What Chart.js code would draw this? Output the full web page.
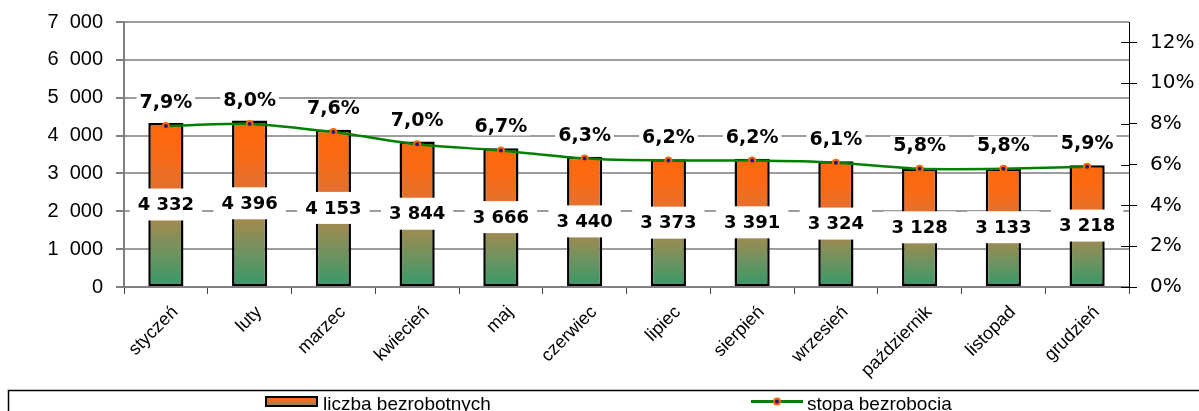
<!DOCTYPE html>
<html>
<head>
<meta charset="utf-8">
<script src="https://cdn.jsdelivr.net/npm/chart.js@4"></script>
<style>
html, body { margin: 0; padding: 0; background: #fff; overflow: hidden; }
#wrap { width: 1199px; height: 411px; overflow: hidden; position: relative; }
canvas { display: block; }
</style>
</head>
<body>
<div id="wrap"><canvas id="chart" width="1199" height="440"></canvas></div>
<script>
const months = ['styczeń', 'luty', 'marzec', 'kwiecień', 'maj', 'czerwiec', 'lipiec', 'sierpień', 'wrzesień', 'październik', 'listopad', 'grudzień'];
const unemployed = [4332, 4396, 4153, 3844, 3666, 3440, 3373, 3391, 3324, 3128, 3133, 3218];
const rate = [7.9, 8.0, 7.6, 7.0, 6.7, 6.3, 6.2, 6.2, 6.1, 5.8, 5.8, 5.9];
const countTicks = [0, 1000, 2000, 3000, 4000, 5000, 6000, 7000];
const rateTicks = [0, 2, 4, 6, 8, 10, 12];

const seriesNames = ['liczba bezrobotnych', 'stopa bezrobocia'];

function fmtThousands(n, sep) {
    const s = String(n);
    if (s.length <= 3) return s;
    return s.slice(0, s.length - 3) + sep + s.slice(-3);
}

function fmtRate(v) {
    return v.toFixed(1).replace('.', ',') + '%';
}

function barGradient(ctx, top, bottom) {
    const g = ctx.createLinearGradient(0, top, 0, bottom);
    g.addColorStop(0, '#FF680A');
    g.addColorStop(0.18, '#F96A14');
    g.addColorStop(0.4, '#E2712F');
    g.addColorStop(0.6, '#A08A50');
    g.addColorStop(0.8, '#6C9360');
    g.addColorStop(1, '#349A68');
    return g;
}

// bar value labels (centre, white box) and rate labels above the points
const valueLabels = {
    id: 'valueLabels',
    afterDatasetsDraw(chart) {
        const ctx = chart.ctx;
        const bars = chart.getDatasetMeta(0).data;
        const pts = chart.getDatasetMeta(1).data;
        ctx.save();
        ctx.textAlign = 'center';
        ctx.textBaseline = 'middle';

        ctx.font = 'bold 18px "DejaVu Sans"';
        bars.forEach((bar, i) => {
            const txt = fmtThousands(unemployed[i], ' ');
            const w = ctx.measureText(txt).width + 16;
            const cy = (bar.y + bar.base) / 2;
            ctx.fillStyle = '#fff';
            ctx.fillRect(bar.x - w / 2, cy - 16, w, 32);
            ctx.fillStyle = '#000';
            ctx.fillText(txt, bar.x, cy + 1);
        });

        ctx.font = 'bold 19px "DejaVu Sans"';
        pts.forEach((pt, i) => {
            const txt = fmtRate(rate[i]);
            const w = ctx.measureText(txt).width + 6;
            const cy = pt.y - 24;
            ctx.fillStyle = '#fff';
            ctx.fillRect(pt.x - w / 2, cy - 9, w, 18);
            ctx.fillStyle = '#000';
            ctx.fillText(txt, pt.x, cy + 1);
        });
        ctx.restore();
    }
};

// rotated month names and the inner half of the right axis ticks
const axisExtras = {
    id: 'axisExtras',
    afterDraw(chart) {
        const ctx = chart.ctx;
        const xs = chart.scales.x;
        const y1 = chart.scales.y1;
        ctx.save();
        ctx.strokeStyle = '#000';
        ctx.lineWidth = 1;
        y1.ticks.forEach(t => {
            const py = Math.round(y1.getPixelForValue(t.value)) + 0.5;
            ctx.beginPath();
            ctx.moveTo(y1.left - 8, py);
            ctx.lineTo(y1.left, py);
            ctx.stroke();
        });

        ctx.fillStyle = '#000';
        ctx.font = '18px "Liberation Sans", Arial';
        ctx.textAlign = 'right';
        ctx.textBaseline = 'top';
        months.forEach((m, i) => {
            ctx.save();
            ctx.translate(xs.getPixelForValue(i) + 3, xs.top + 16);
            ctx.rotate(-Math.PI / 4);
            ctx.fillText(m, 0, 0);
            ctx.restore();
        });
        ctx.restore();
    }
};

// boxed legend at the bottom, like the spreadsheet one
const boxLegend = {
    id: 'boxLegend',
    afterDraw(chart) {
        const ctx = chart.ctx;
        ctx.save();
        ctx.strokeStyle = '#000';
        ctx.lineWidth = 1.5;
        ctx.strokeRect(8.5, 390.5, 1199, 60);

        // bar swatch
        const g = ctx.createLinearGradient(0, 397, 0, 406);
        g.addColorStop(0, '#FF680A');
        g.addColorStop(0.5, '#E2712F');
        g.addColorStop(1, '#6C9360');
        ctx.fillStyle = g;
        ctx.fillRect(266, 397, 51, 9);
        ctx.lineWidth = 2;
        ctx.strokeRect(266, 397, 51, 9);

        // line swatch
        ctx.strokeStyle = '#008000';
        ctx.lineWidth = 3;
        ctx.beginPath();
        ctx.moveTo(751, 401.5);
        ctx.lineTo(803, 401.5);
        ctx.stroke();
        ctx.beginPath();
        ctx.arc(777, 401.5, 3, 0, Math.PI * 2);
        ctx.fillStyle = '#1a1a80';
        ctx.fill();
        ctx.strokeStyle = '#FF6600';
        ctx.lineWidth = 2;
        ctx.stroke();

        ctx.fillStyle = '#000';
        ctx.font = '19px "Liberation Sans", Arial';
        ctx.textAlign = 'left';
        ctx.textBaseline = 'alphabetic';
        ctx.fillText(seriesNames[0], 323, 410);
        ctx.fillText(seriesNames[1], 807, 410);
        ctx.restore();
    }
};

const ctx = document.getElementById('chart').getContext('2d');

new Chart(ctx, {
    data: {
        labels: months,
        datasets: [
            {
                type: 'bar',
                label: seriesNames[0],
                data: unemployed,
                yAxisID: 'y',
                order: 1,
                backgroundColor: c => {
                    const chart = c.chart;
                    if (!chart.chartArea || c.dataIndex === undefined) return '#FF6600';
                    const ys = chart.scales.y;
                    return barGradient(chart.ctx, ys.getPixelForValue(unemployed[c.dataIndex]), ys.getPixelForValue(0));
                },
                borderColor: '#000',
                borderWidth: 2.5,
                borderSkipped: false,
                barPercentage: 0.42,
                categoryPercentage: 1
            },
            {
                type: 'line',
                label: seriesNames[1],
                data: rate,
                yAxisID: 'y1',
                order: 0,
                borderColor: '#008000',
                borderWidth: 2.5,
                tension: 0.25,
                pointRadius: 3,
                pointBackgroundColor: '#1a1a80',
                pointBorderColor: '#FF6600',
                pointBorderWidth: 2,
                fill: false
            }
        ]
    },
    options: {
        responsive: false,
        animation: false,
        devicePixelRatio: 1,
        layout: { padding: { top: 0, left: 0, right: 0, bottom: 0 } },
        plugins: {
            legend: { display: false },
            tooltip: { enabled: false }
        },
        scales: {
            x: {
                offset: true,
                afterFit: s => { s.height = 153; },
                grid: { offset: true, drawOnChartArea: false, tickLength: 7, color: '#444', lineWidth: 1 },
                border: { color: '#808080', width: 2 },
                ticks: { display: false }
            },
            y: {
                position: 'left',
                min: 0,
                max: 7000,
                afterBuildTicks: s => { s.ticks = countTicks.map(v => ({ value: v })); },
                afterFit: s => { s.width = 124; },
                grid: { color: '#9c9c9c', lineWidth: 2, tickLength: 8, tickColor: '#808080' },
                border: { color: '#808080', width: 2 },
                ticks: {
                    padding: 13,
                    color: '#000',
                    font: { family: '"Liberation Sans", Arial', size: 20, lineHeight: 0.9 },
                    callback: v => fmtThousands(v, '\u2007')
                }
            },
            y1: {
                position: 'right',
                min: 0,
                max: 13,
                afterBuildTicks: s => { s.ticks = rateTicks.map(v => ({ value: v })); },
                afterFit: s => { s.width = 70; },
                grid: { drawOnChartArea: false, tickLength: 8, color: '#000', lineWidth: 1 },
                border: { color: '#000', width: 1 },
                ticks: {
                    padding: 13,
                    color: '#000',
                    font: { family: '"DejaVu Sans"', size: 20, lineHeight: 0.9 },
                    callback: v => v + '%'
                }
            }
        }
    },
    plugins: [valueLabels, axisExtras, boxLegend]
});
</script>
</body>
</html>
